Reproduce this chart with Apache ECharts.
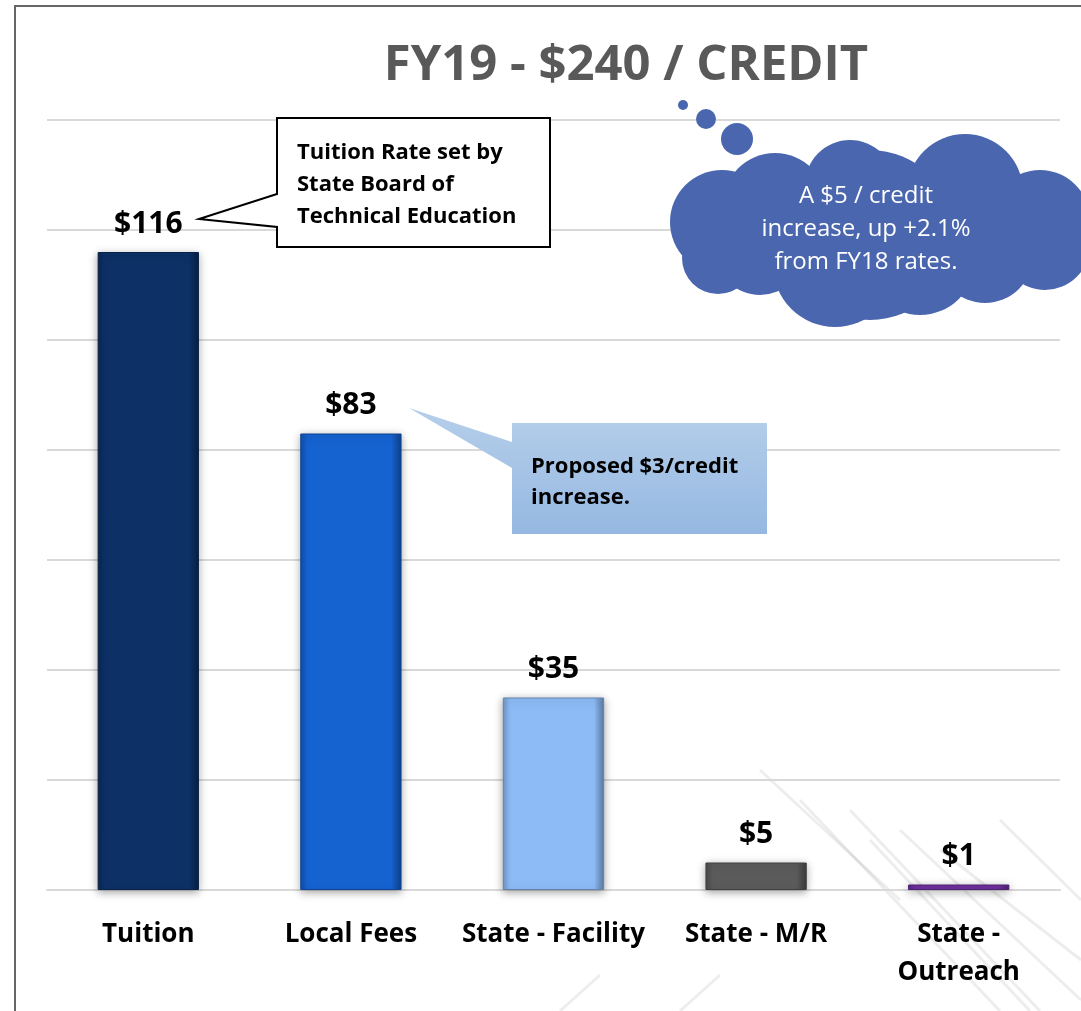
<!DOCTYPE html>
<html>
<head>
<meta charset="utf-8">
<script src="https://cdn.jsdelivr.net/npm/echarts@6/dist/echarts.min.js"></script>
<style>
html,body{margin:0;padding:0;background:#fff;}
#chart{width:1081px;height:1011px;}
</style>
</head>
<body>
<div id="chart"></div>
<script>
// data
var categories = ['Tuition', 'Local Fees', 'State - Facility', 'State - M/R', 'State -\nOutreach'];
var values = [116, 83, 35, 5, 1];
var yTicks = [0, 20, 40, 60, 80, 100, 120, 140];

var barColors = ['#0d3166', '#1562d1', '#8dbbf6', '#5b5b5b', '#7030a0'];
var FONT = '"Open Sans", "Noto Sans", sans-serif';

function darken(hex, k) {
	var n = parseInt(hex.slice(1), 16);
	var r = Math.round(((n >> 16) & 255) * (1 - k));
	var g = Math.round(((n >> 8) & 255) * (1 - k));
	var b = Math.round((n & 255) * (1 - k));
	return 'rgb(' + r + ',' + g + ',' + b + ')';
}

function bevel(c) {
	return {
		type: 'linear', x: 0, y: 0, x2: 1, y2: 0,
		colorStops: [
			{offset: 0, color: darken(c, 0.2)},
			{offset: 0.07, color: c},
			{offset: 0.9, color: c},
			{offset: 1, color: darken(c, 0.35)}
		]
	};
}

var seriesData = values.map(function(v, i) {
	return {
		value: v,
		itemStyle: {
			color: bevel(barColors[i]),
			borderColor: darken(barColors[i], 0.3),
			borderWidth: 1
		}
	};
});

// cloud made from circles
var cloudBumps = [
	[870, 235, 85], [775, 205, 52], [850, 185, 45], [965, 192, 58], [1040, 220, 50],
	[1045, 245, 45], [985, 255, 48], [835, 265, 62], [718, 258, 36], [722, 222, 52],
	[920, 260, 55], [760, 250, 45]
];
var cloud = cloudBumps.map(function(b) {
	return {type: 'circle', shape: {cx: b[0], cy: b[1], r: b[2]}, style: {fill: '#4a66ae'}, z: 10};
});

// faint brushed streaks of the slide background
var streaks = [
	[800, 800, 1000, 1011], [850, 810, 1040, 1011], [870, 840, 1030, 1011],
	[900, 830, 1081, 1000], [940, 850, 1081, 960], [760, 770, 900, 900],
	[680, 1011, 720, 975], [560, 1011, 600, 975], [1000, 820, 1081, 900]
].map(function(l) {
	return {type: 'line', shape: {x1: l[0], y1: l[1], x2: l[2], y2: l[3]},
		style: {stroke: 'rgba(0,0,0,0.07)', lineWidth: 3, shadowBlur: 4, shadowColor: 'rgba(0,0,0,0.1)'}, z: -1, silent: true};
});

var myChar = echarts.init(document.getElementById('chart'));
var myOption = {
	backgroundColor: '#ffffff',
	animation: false,
	title: {
		text: 'FY19 - $240 / CREDIT',
		left: 621,
		top: 37,
		textAlign: 'center',
		textStyle: {fontFamily: FONT, fontSize: 49, fontWeight: 'bold', color: '#595959'}
	},
	grid: {left: 47, right: 21, top: 120, bottom: 121, containLabel: false},
	xAxis: {
		type: 'category',
		data: categories,
		axisTick: {show: false},
		axisLine: {lineStyle: {color: '#d9d9d9', width: 2}},
		axisLabel: {
			color: '#000', fontFamily: FONT, fontWeight: 'bold', fontSize: 26,
			margin: 26, lineHeight: 38, interval: 0
		}
	},
	yAxis: {
		type: 'value',
		min: yTicks[0],
		max: yTicks[yTicks.length - 1],
		interval: yTicks[1] - yTicks[0],
		axisLabel: {show: false},
		axisLine: {show: false},
		axisTick: {show: false},
		splitLine: {lineStyle: {color: '#d9d9d9', width: 2}}
	},
	series: [{
		type: 'bar',
		barWidth: '50%',
		data: seriesData,
		itemStyle: {shadowBlur: 8, shadowColor: 'rgba(0,0,0,0.35)', shadowOffsetY: 2},
		label: {
			show: true,
			position: 'top',
			distance: 13,
			formatter: '${c}',
			color: '#000',
			fontFamily: FONT,
			fontWeight: 'bold',
			fontSize: 30
		}
	}],
	graphic: [
		{type: 'rect', shape: {x: 15, y: 6, width: 1100, height: 1050}, style: {fill: null, stroke: '#666', lineWidth: 2}, z: 20, silent: true}
	].concat(streaks).concat([
		// callout: tuition
		{type: 'polygon', shape: {points: [[277, 118], [550, 118], [550, 247], [277, 247], [277, 227], [199, 219], [277, 194]]},
			style: {fill: '#fff', stroke: '#000', lineWidth: 2}, z: 10},
		{type: 'text', left: 297, top: 137, z: 11,
			style: {text: 'Tuition Rate set by\nState Board of\nTechnical Education', font: 'bold 22px ' + FONT, lineHeight: 32, fill: '#000'}},
		// callout: local fees
		{type: 'polygon', shape: {points: [[512, 423], [767, 423], [767, 534], [512, 534], [512, 468], [409, 408], [512, 442]]},
			style: {fill: {type: 'linear', x: 0, y: 0, x2: 0, y2: 1, colorStops: [{offset: 0, color: '#b6cfea'}, {offset: 1, color: '#95b8e2'}]}}, z: 10},
		{type: 'text', left: 531, top: 451, z: 11,
			style: {text: 'Proposed $3/credit\nincrease.', font: 'bold 22px ' + FONT, lineHeight: 31, fill: '#000'}},
		// thought bubbles
		{type: 'circle', shape: {cx: 683, cy: 105, r: 5}, style: {fill: '#4a66ae'}, z: 10},
		{type: 'circle', shape: {cx: 706, cy: 119, r: 10}, style: {fill: '#4a66ae'}, z: 10},
		{type: 'circle', shape: {cx: 737, cy: 139, r: 16}, style: {fill: '#4a66ae'}, z: 10}
	]).concat(cloud).concat([
		{type: 'text', x: 866, y: 229, z: 11,
			style: {text: 'A $5 / credit\nincrease, up +2.1%\nfrom FY18 rates.', font: '24px ' + FONT, lineHeight: 33, fill: '#fff', align: 'center', verticalAlign: 'middle'}}
	])
};
myChar.setOption(myOption);
</script>
</body>
</html>
